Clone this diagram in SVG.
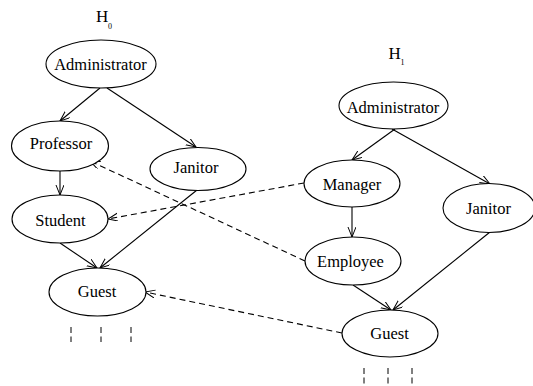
<svg xmlns="http://www.w3.org/2000/svg" width="533" height="386" viewBox="0 0 533 386" font-family="'Liberation Serif', 'Times New Roman', serif">
<defs>
<style>
.n ellipse{fill:#fff;stroke:#000;stroke-width:1.1}
.n text{font-family:'Liberation Serif',serif;font-size:16.5px;fill:#000;text-anchor:middle}
.e{stroke:#000;stroke-width:1.1;fill:none}
.d{stroke-dasharray:6,4}
.t{stroke:#000;stroke-width:1;stroke-dasharray:6,3.5}
.h{font-family:'Liberation Serif',serif;font-size:17px;fill:#000}
.s{font-family:'Liberation Serif',serif;font-size:8px;fill:#000}
</style>
<marker id="a" markerUnits="userSpaceOnUse" markerWidth="12" markerHeight="10" refX="10" refY="4" orient="auto">
<path d="M0,0 L10,4 L0,8" fill="none" stroke="#000" stroke-width="1"/>
</marker>
</defs>
<rect width="533" height="386" fill="#fff"/>
<g id="labels">
<text class="h" x="96" y="22">H</text><text class="s" x="108" y="28.5">0</text>
<text class="h" x="388.5" y="58.5">H</text><text class="s" x="400.5" y="64.5">1</text>
</g>
<g id="connectors">
<line class="e" x1="100" y1="88" x2="60" y2="121" marker-end="url(#a)"/>
<line class="e" x1="107" y1="88" x2="196" y2="147" marker-end="url(#a)"/>
<line class="e" x1="60" y1="171" x2="60" y2="195" marker-end="url(#a)"/>
<line class="e" x1="60" y1="243" x2="97" y2="268" marker-end="url(#a)"/>
<line class="e" x1="197" y1="190" x2="100" y2="268" marker-end="url(#a)"/>
<line class="e" x1="395" y1="129" x2="352" y2="160" marker-end="url(#a)"/>
<line class="e" x1="392" y1="129" x2="490" y2="184" marker-end="url(#a)"/>
<line class="e" x1="352" y1="207" x2="352" y2="237" marker-end="url(#a)"/>
<line class="e" x1="353" y1="285" x2="391" y2="310" marker-end="url(#a)"/>
<line class="e" x1="490" y1="232" x2="393" y2="310" marker-end="url(#a)"/>
<line class="e d" x1="305" y1="261" x2="90" y2="161" marker-end="url(#a)"/>
<line class="e d" x1="304" y1="183" x2="108" y2="219" marker-end="url(#a)"/>
<line class="e d" x1="342" y1="333" x2="145" y2="292" marker-end="url(#a)"/>
</g>
<g id="ticks">
<line class="t" x1="71" y1="327" x2="71" y2="342"/>
<line class="t" x1="101" y1="327" x2="101" y2="342"/>
<line class="t" x1="131" y1="327" x2="131" y2="342"/>
<line class="t" x1="364" y1="368" x2="364" y2="384"/>
<line class="t" x1="388" y1="368" x2="388" y2="384"/>
<line class="t" x1="412" y1="368" x2="412" y2="384"/>
</g>
<g id="h0-administrator" class="n"><ellipse cx="101" cy="64" rx="55" ry="24"/><text x="100.5" y="70">Administrator</text></g>
<g id="h0-professor" class="n"><ellipse cx="60" cy="146" rx="48.5" ry="25"/><text x="61" y="148.5">Professor</text></g>
<g id="h0-janitor" class="n"><ellipse cx="198" cy="169" rx="48" ry="21.5"/><text x="196" y="172.5">Janitor</text></g>
<g id="h0-student" class="n"><ellipse cx="60" cy="219" rx="48" ry="24"/><text x="60.5" y="225.5">Student</text></g>
<g id="h0-guest" class="n"><ellipse cx="97.5" cy="292" rx="48.5" ry="24"/><text x="97" y="297">Guest</text></g>
<g id="h1-administrator" class="n"><ellipse cx="393.5" cy="105.5" rx="54.5" ry="23.5"/><text x="393" y="113">Administrator</text></g>
<g id="h1-manager" class="n"><ellipse cx="352" cy="183.5" rx="48" ry="23.5"/><text x="352" y="190">Manager</text></g>
<g id="h1-janitor" class="n"><ellipse cx="489" cy="208" rx="46" ry="24.5"/><text x="488.5" y="214">Janitor</text></g>
<g id="h1-employee" class="n"><ellipse cx="353" cy="261" rx="48" ry="24"/><text x="350.5" y="266.5">Employee</text></g>
<g id="h1-guest" class="n"><ellipse cx="390" cy="333.5" rx="48" ry="23.5"/><text x="389.5" y="339">Guest</text></g>
</svg>
